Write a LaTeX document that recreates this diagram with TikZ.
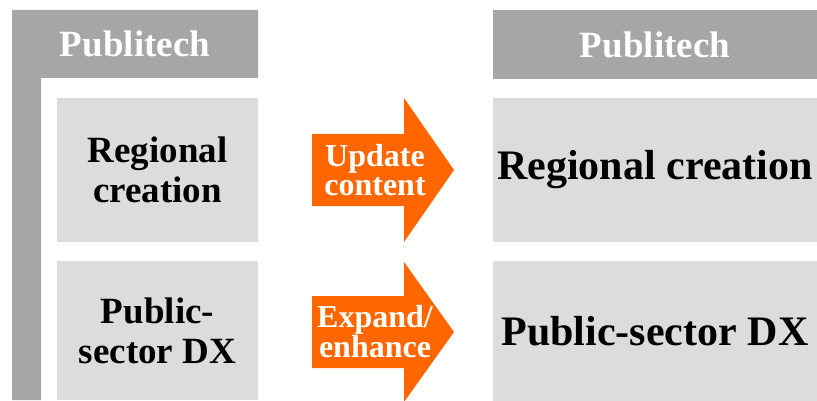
\documentclass[tikz,border=0pt]{standalone}
\usepackage{fontspec}
\setmainfont{Liberation Serif}
\usetikzlibrary{shapes,calc}
\definecolor{gris}{HTML}{A6A6A6}
\definecolor{grisclair}{HTML}{DCDCDC}
\definecolor{orangevif}{HTML}{FF6600}
\tikzset{boite/.style={
    rectangle,
    fill=grisclair,
    inner sep=0pt,
    align=center,
    font=\bfseries\fontsize{37}{40}\selectfont}}
\tikzset{titre/.style={
    white,
    inner sep=0pt,
    font=\bfseries\fontsize{37}{37}\selectfont}}
\tikzset{fleche/.style={
    white,
    inner sep=0pt,
    align=center,
    font=\bfseries\fontsize{32}{29}\selectfont}}

\begin{document}
\begin{tikzpicture}[x=1pt, y=-1pt]

\useasboundingbox (0,0) rectangle (817,401);

\coordinate (G1) at (157.5,170);
\coordinate (G2) at (157.5,330.5);
\coordinate (D1) at (655,170);
\coordinate (D2) at (655,331);
\coordinate (F1) at (375,170);
\coordinate (F2) at (375,332);

% bandeau en L a gauche
\fill[gris] (12,10) -- (258,10) -- (258,78) -- (41,78) -- (41,400) -- (12,400) -- cycle;
\node[titre] (tg) at (135,44) {Publitech};

\node[fill=gris,
  minimum width=324,
  minimum height=69,
  inner sep=0pt] (td) at (655,44.5) {};
\node[titre] at (td) {Publitech};

\node[boite,
  minimum width=201,
  minimum height=144] (g1) at (G1) {Regional\\creation};

\node[boite,
  minimum width=201,
  minimum height=139] (g2) at (G2) {Public-\\sector DX};

\node[boite,
  minimum width=324,
  minimum height=144,
  font=\bfseries\fontsize{42}{42}\selectfont] (d1) at (D1) {Regional creation};

\node[boite,
  minimum width=324,
  minimum height=140,
  font=\bfseries\fontsize{42}{42}\selectfont] (d2) at (D2) {Public-sector DX};

% fleches
\fill[orangevif] (312,134) -- (404,134) -- (404,98) -- (454,170) -- (404,242) -- (404,206) -- (312,206) -- cycle;
\fill[orangevif] (312,296) -- (404,296) -- (404,262) -- (454,332) -- (404,402) -- (404,368) -- (312,368) -- cycle;

\node[fleche] (f1) at (F1) {Update\\content};
\node[fleche] (f2) at (F2) {Expand/\\enhance};

\end{tikzpicture}
\end{document}
